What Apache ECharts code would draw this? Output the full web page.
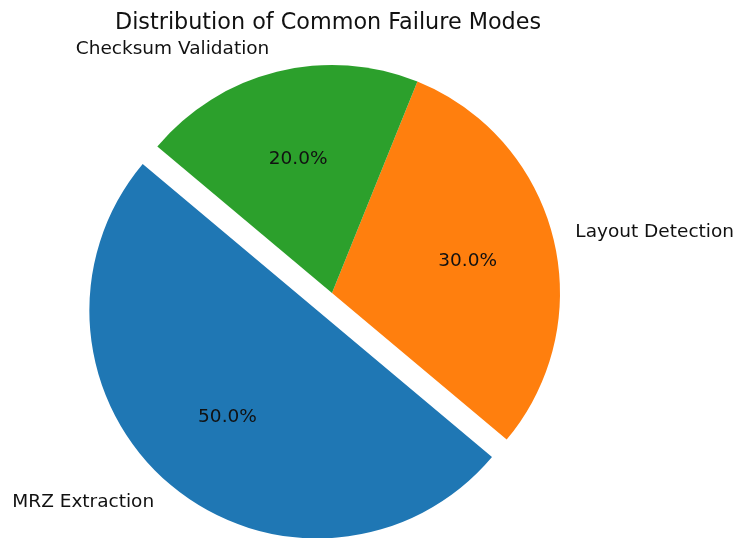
<!DOCTYPE html>
<html>
<head>
<meta charset="utf-8">
<script src="https://cdn.jsdelivr.net/npm/echarts@6/dist/echarts.min.js"></script>
<style>
  html, body { margin: 0; padding: 0; background: #fff; }
  #chart { width: 737px; height: 538px; }
</style>
</head>
<body>
<div id="chart"></div>
<script>
// data
const categories = ['MRZ Extraction', 'Layout Detection', 'Checksum Validation'];
const values = [50, 30, 20];
const exploded = [true, false, false];
const colors = ['#1f77b4', '#ff7f0e', '#2ca02c'];

// pie geometry (matplotlib style: startangle 140, counterclockwise)
const R = 228;
const CENTER = [332, 293];
const FONT = 'DejaVu Sans';

const chart = echarts.init(document.getElementById('chart'));

const baseData = categories.map((name, i) => ({
  name: name,
  value: values[i],
  selected: exploded[i],
  itemStyle: { color: colors[i] }
}));

// transparent copy used only for the percent labels (at 0.6 R)
const pctData = categories.map((name, i) => ({
  name: name,
  value: values[i],
  selected: exploded[i],
  itemStyle: { color: 'rgba(0,0,0,0)' }
}));

chart.setOption({
  animation: false,
  backgroundColor: '#fff',
  title: {
    text: 'Distribution of Common Failure Modes',
    left: 110,
    top: 7,
    textStyle: { fontFamily: FONT, fontSize: 22.3, fontWeight: 'normal', color: '#111' }
  },
  series: [
    {
      type: 'pie',
      center: CENTER,
      radius: [0, R],
      startAngle: 140,
      clockwise: false,
      selectedMode: 'single',
      selectedOffset: R * 0.1,
      avoidLabelOverlap: false,
      emphasis: { disabled: true },
      data: baseData,
      label: {
        show: true,
        position: 'outside',
        formatter: '{b}',
        distanceToLabelLine: 0,
        padding: [0, 2, 0, 0],
        fontFamily: FONT,
        fontSize: 18.5,
        color: '#111'
      },
      labelLine: { show: false, length: R * 0.1, length2: 0 }
    },
    {
      type: 'pie',
      silent: true,
      center: CENTER,
      radius: [0, R * 1.2],
      startAngle: 140,
      clockwise: false,
      selectedMode: 'single',
      selectedOffset: R * 0.1,
      avoidLabelOverlap: false,
      emphasis: { disabled: true },
      data: pctData,
      label: {
        show: true,
        position: 'inside',
        formatter: p => p.percent.toFixed(1) + '%',
        offset: [0, 2],
        fontFamily: FONT,
        fontSize: 18.5,
        color: '#111'
      },
      labelLine: { show: false }
    }
  ]
});
</script>
</body>
</html>
